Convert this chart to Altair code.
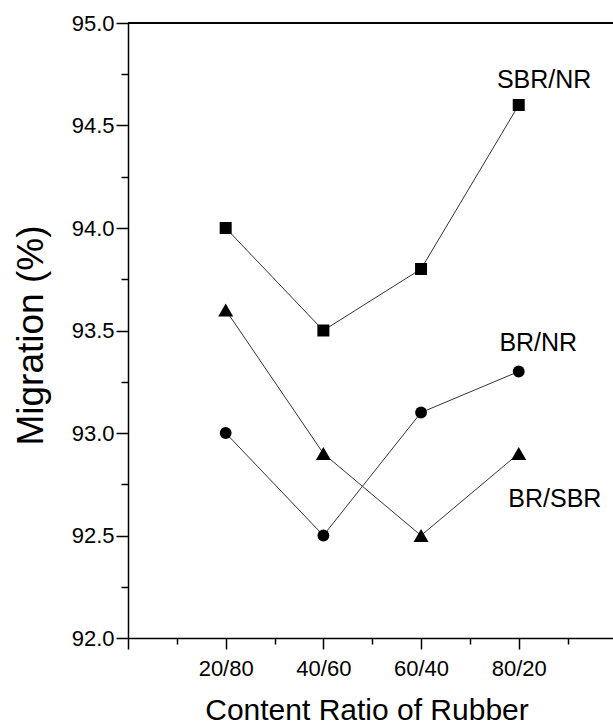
import altair as alt
import pandas as pd

# ---- data ----
categories = ["20/80", "40/60", "60/40", "80/20"]
series_names = ["SBR/NR", "BR/NR", "BR/SBR"]
sbr_nr = [94.0, 93.5, 93.8, 94.6]
br_nr = [93.0, 92.5, 93.1, 93.3]
br_sbr = [93.6, 92.9, 92.5, 92.9]
label_x = [4.26, 4.20, 4.37]
label_y = [94.683, 93.40, 92.64]

rows = []
for name, vals in zip(series_names, [sbr_nr, br_nr, br_sbr]):
    for i, (c, v) in enumerate(zip(categories, vals)):
        rows.append({"series": name, "pos": i + 1, "ratio": c, "value": v})
df = pd.DataFrame(rows)
labels_df = pd.DataFrame({"series": series_names, "lx": label_x, "ly": label_y})

FONT = "Liberation Sans"

x_scale = alt.Scale(domain=[0, 4.965], nice=False, zero=False)
y_scale = alt.Scale(domain=[92, 95], nice=False, zero=False)

label_expr = " : ".join(
    f"datum.value == {i + 1} ? '{c}'" for i, c in enumerate(categories)
) + " : ''"

x_axis = alt.Axis(
    title="Content Ratio of Rubber",
    values=[i * 0.5 for i in range(10)],
    labelExpr=label_expr,
    tickSize={"condition": {"test": "datum.value % 1 === 0", "value": 11}, "value": 6},
    tickColor="black",
    tickWidth=1.5,
    domainColor="black",
    domainWidth=1.5,
    labelFont=FONT,
    labelFontSize=22,
    labelColor="black",
    labelPadding=9,
    labelFlush=False,
    labelOverlap=False,
    grid=False,
    titleFont=FONT,
    titleFontSize=30,
    titleFontWeight="normal",
    titleColor="black",
    titleX=238.5,
    titleY=81,
    titleBaseline="alphabetic",
    titleAlign="center",
)

y_axis = alt.Axis(
    title="Migration (%)",
    values=[92 + i * 0.25 for i in range(13)],
    labelExpr="datum.value % 0.5 === 0 ? format(datum.value, '.1f') : ''",
    tickSize={"condition": {"test": "datum.value % 0.5 === 0", "value": 12}, "value": 7},
    tickColor="black",
    tickWidth=1.5,
    domainColor="black",
    domainWidth=1.5,
    labelFont=FONT,
    labelFontSize=22,
    labelColor="black",
    labelPadding=2,
    labelFlush=False,
    labelOverlap=False,
    grid=False,
    titleFont=FONT,
    titleFontSize=37,
    titleFontWeight="normal",
    titleColor="black",
    titleAngle=270,
    titleX=-86,
    titleY=312,
    titleBaseline="alphabetic",
    titleAlign="center",
)

lines = alt.Chart(df).mark_line(color="#333333", strokeWidth=1).encode(
    x=alt.X("pos:Q", scale=x_scale, axis=x_axis),
    y=alt.Y("value:Q", scale=y_scale, axis=y_axis),
    detail="series:N",
    order="pos:Q",
)

shapes = ["square", "circle", "triangle-up"]
sizes = [144, 140, 225]
point_layers = []
for name, shp, sz in zip(series_names, shapes, sizes):
    point_layers.append(
        alt.Chart(df)
        .transform_filter(alt.datum.series == name)
        .mark_point(filled=True, opacity=1, color="black", shape=shp, size=sz, strokeWidth=0)
        .encode(
            x=alt.X("pos:Q", scale=x_scale),
            y=alt.Y("value:Q", scale=y_scale),
        )
    )

texts = alt.Chart(labels_df).mark_text(
    font=FONT, fontSize=25, color="black", align="center", baseline="alphabetic"
).encode(
    x=alt.X("lx:Q", scale=x_scale),
    y=alt.Y("ly:Q", scale=y_scale),
    text="series:N",
)

top_rule = alt.Chart(labels_df).mark_rule(color="black", strokeWidth=1.5).encode(
    y=alt.datum(95.0, scale=y_scale)
)

chart = alt.layer(lines, *point_layers, texts, top_rule).properties(
    width=485,
    height=615,
    padding={"left": 128, "top": 23, "right": 0, "bottom": 86},
    autosize=alt.AutoSizeParams(type="none"),
    background="white",
).configure_view(strokeWidth=0)

chart.save("out.html", embed_options={"renderer": "svg", "actions": False})
